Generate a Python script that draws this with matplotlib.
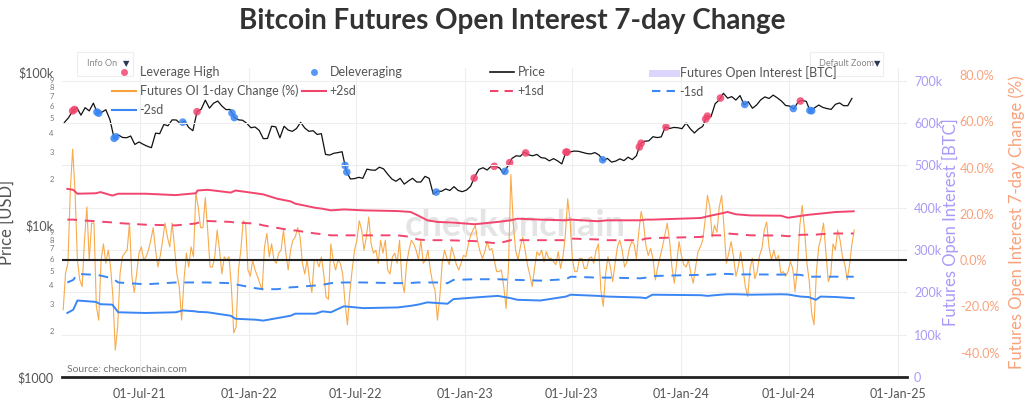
import numpy as np
import pandas as pd
import matplotlib
matplotlib.use("Agg")
import matplotlib.pyplot as plt
import matplotlib.dates as mdates
from matplotlib.lines import Line2D
from matplotlib.patches import Rectangle
from matplotlib.ticker import FixedLocator, FuncFormatter

plt.rcParams['font.family'] = ['Lato', 'DejaVu Sans']

# ---- data ----
# weekly BTC price, thousands of USD
price_start = '2021-02-24'
price_k = [
    47.0, 50.5, 56.0, 58.9, 52.5, 58.8, 56.0, 63.0, 53.8, 54.8, 57.0, 49.0, 37.0, 39.0, 37.5, 37.3,
    38.3, 33.7, 35.0, 33.8, 32.8, 32.1, 40.0, 39.7, 45.6, 44.7, 48.9, 48.8, 46.1, 48.1, 43.6, 41.5,
    55.3, 57.4, 65.9, 58.4, 62.9, 65.0, 60.3, 57.1, 57.2, 50.6, 48.9, 48.6, 46.4,
    43.4, 43.9, 41.7, 36.8, 36.9, 44.4, 44.0, 37.3, 44.4, 41.9, 41.1, 42.9, 47.1, 43.2, 41.1, 41.5,
    39.2, 39.7, 29.0, 28.7, 29.5, 29.8, 30.2, 22.6, 20.0, 20.1, 20.5, 20.2, 23.2, 22.9, 22.8, 23.9,
    23.3, 21.5, 20.0, 19.3, 20.2, 18.5, 19.4, 20.2, 19.1, 19.1, 20.8, 20.2, 15.9, 16.6, 16.6, 17.2,
    16.8, 17.8, 16.8, 16.5,
    16.9, 17.9, 20.7, 23.1, 23.7, 22.9, 24.3, 24.2, 23.6, 21.7, 24.4, 27.3, 28.4, 28.2, 30.0, 28.8,
    28.4, 29.0, 27.6, 27.4, 26.3, 27.2, 26.3, 25.1, 30.0, 30.1, 30.5, 30.4, 29.9, 29.4, 29.2, 29.8,
    28.7, 26.4, 27.3, 25.8, 26.2, 27.1, 26.4, 27.8, 26.8, 28.4, 34.2, 35.4, 35.6, 37.9, 37.4, 37.8,
    44.0, 42.9, 43.6, 43.4,
    42.8, 46.6, 42.7, 40.1, 42.6, 44.3, 51.8, 51.3, 62.4, 66.1, 73.1, 67.9, 69.5, 66.0, 70.6, 61.3,
    64.3, 58.3, 61.2, 66.2, 69.2, 67.6, 71.1, 68.2, 65.0, 60.8, 60.2, 57.7, 64.1, 65.8, 64.6, 55.1,
    58.7, 61.2, 59.0, 58.0, 57.3, 61.8, 63.2, 60.6, 60.6, 67.6,
]

lev_high_dates = ['2021-03-10', '2021-03-13', '2021-10-06', '2023-01-17', '2023-02-20',
                  '2023-03-18', '2023-04-14', '2023-06-21', '2023-06-23', '2023-10-23',
                  '2023-10-26', '2023-12-07', '2024-02-12', '2024-02-15', '2024-03-08',
                  '2024-07-21']
delev_dates = ['2021-04-20', '2021-04-23', '2021-05-19', '2021-05-22', '2021-09-12',
               '2021-12-04', '2021-12-08', '2022-06-13', '2022-06-16', '2022-11-14',
               '2023-03-10', '2023-08-22', '2024-04-18', '2024-07-09', '2024-08-06',
               '2024-08-09']

# futures OI change (%), one value every 4 days
oi_change_start = '2021-02-22'
oi_change_pct = [
    -21.5, -5.7, -1.4, 30, 48, 30, 0, -8.6, -11.5, 8.6,
    23, 0, 16, 16, -20, -26, 0, 7, -1.4, 4.3,
    -3, -16, -39, -29, -6, 1.4, 3, 4.3, 16, -7,
    -14, -6, 3, 5.7, 0, 1.4, 4.3, 8.6, 14, 4.3,
    -3, 2, 8.6, 16, 10, 5.7, 16, 5.7, -6, -11.5,
    -26, -8.6, 3, -3, 5.7, 1.4, 29, 23, 14, 14,
    27, 13, -3, -3, 1.4, 13, 4.3, -6, 1.4, 0,
    1.4, -11.5, -31.5, -29, -4.3, 4.3, 17, 16, -4.3, -7,
    0, -4.3, -7, -10, -13, 5.7, 11.5, 1.4, 7, 0,
    -1.4, 3, 4.3, 13, 3, -4.3, 4.3, 8.6, 10, 14,
    10, -1.4, -6, 0, -8.6, -14, 0, 0, -3, 1.4,
    -6, -16, -17, 7,
    0, -4.3, 0, -1.4, -6, -18.6, -28, -14, -4.3, 4.3,
    8.6, 17, 13, 4.3, 10, 18.6, 7, 3, 4.3, -1.4,
    8.6, 3, 8.6, -4.3, -6, 1.4, 3, -1.4, 8.6, -8.6,
    -14, -1.4, 4.3, 8.6, 7, 4.3, 0, 8.6, -1.4, 0,
    4.3, -4.3, -10, -13, -26, -16, -1.4, 4.3, 0.7, -2,
    5.7, 2, -2, -4.3, -1.4, 2, 1.4, 6.4, 10.7, 13,
    15, 8, 3.6, 0.7, 3.6, 8, 4.3, 5, 0, -5,
    -5, -4.3, -11.5, -21, -3, 37, 16, 4.3, 0, 5.7,
    10, 4.3, -2, -6.4, -11.5, -3.6, 3.6, 2, 4.3, -0.7,
    3.6, 0.7, 0.7, -0.7, -2, 3.6, -3.6, 1.4, 10.7, 26.5,
    17, 0, -5, -5, 0.7, 0.7, -3.6, -3.6, 0.7, 1.4,
    -1.4, 4.3, 7,
    -13, -20, -6, 1.4, -3, -9.3, -1.4, 5.7, 8.6, 4.3,
    -3, -0.7, 5, 8, 7, 0.7, 12, 21, 16, 6.4,
    2, 5, 0.7, -8.6, -3, 1.4, 5.7, 10.7, 16, 8.6,
    -3, -10, -1.4, 8, 2, -2, -3, 0, -5.7, -10,
    -3, 3.6, 5.7, 8.6, 17, 28, 23, 10, 15, 12,
    23, 28, 14, -1.4, 3, 8, 1.4, -7, -3, 3.6,
    -3.6, -11.5, -15.8, -3.6, 0.7, -8, -5, 2, 5, 13,
    16.5, 5.7, 0, 4.3, 0, 2, -5.7, -5, -7, -5,
    -0.7, -3.6, -13.6, -3, 15, 23.6, 13, -1.4, -9.3, -23,
    -28, -5, 5.7, 10, 16, 3.6, -9.3, -7, 7, 4.3,
    13, 8.6, 1.4, -2, -8.6, -2, 7, 13,
]

band_dates = [
    '2021-03-01', '2021-03-11', '2021-03-18', '2021-04-18', '2021-04-26', '2021-05-16',
    '2021-05-26', '2021-07-11', '2021-08-31', '2021-09-12', '2021-10-04', '2021-10-07',
    '2021-10-24', '2021-12-02', '2021-12-10', '2022-01-13', '2022-01-26', '2022-02-19',
    '2022-03-13', '2022-03-21', '2022-04-24', '2022-05-06', '2022-05-20', '2022-06-11',
    '2022-07-14', '2022-09-10', '2022-10-02', '2022-10-14', '2022-10-30', '2022-11-16',
    '2022-12-03', '2022-12-13', '2023-01-18', '2023-02-26', '2023-03-20', '2023-03-31',
    '2023-05-09', '2023-06-21', '2023-06-29', '2023-08-14', '2023-08-30', '2023-10-25',
    '2023-11-03', '2023-11-14', '2024-02-04', '2024-02-15', '2024-03-08', '2024-03-20',
    '2024-04-03', '2024-04-28', '2024-06-18', '2024-06-30', '2024-07-21', '2024-08-04',
    '2024-08-16', '2024-08-24', '2024-09-19', '2024-10-19',
]
plus_2sd = [30.8, 30.4, 28.7, 28.9, 29.4, 27.9, 28.7, 28.7, 28.1, 28.4,
            28.9, 30.1, 30.4, 29.2, 30.1, 28.9, 28.4, 26.5, 25.4, 24.4,
            22.6, 22.2, 21.5, 21.9, 21.5, 21.2, 20.8, 19.3, 17.2, 16.5,
            16.3, 16.2, 15.5, 16.5, 17.2, 17.9, 17.5, 17.2, 17.5, 16.8,
            17.2, 17.2, 17.5, 17.5, 18.2, 18.9, 20.1, 20.8, 19.8, 19.3,
            19.2, 18.3, 19.1, 19.6, 19.9, 20.1, 20.8, 21.1]
plus_1sd = [17.5, 17.5, 17.3, 16.8, 16.6, 16.3, 16.0, 15.3, 15.0, 15.3,
            15.8, 16.1, 16.9, 16.5, 16.2, 15.8, 15.0, 13.9, 12.9, 12.8,
            11.5, 11.2, 10.7, 10.7, 10.7, 10.7, 10.0, 8.9, 8.6, 8.6,
            8.6, 8.5, 8.2, 7.2, 8.6, 8.6, 8.6, 8.6, 9.3, 8.9,
            8.6, 8.6, 9.3, 9.5, 10.0, 10.7, 10.7, 11.5, 11.2, 10.7,
            10.6, 10.3, 10.9, 11.0, 11.0, 11.2, 11.5, 11.5]
minus_1sd = [-9.7, -8.6, -6.0, -6.4, -6.7, -7.9, -9.7, -10.5, -9.7, -9.7,
             -9.7, -9.7, -9.7, -10.0, -10.5, -12.2, -12.6, -12.6, -11.8, -11.7,
             -11.0, -10.7, -10.0, -9.7, -9.7, -10.0, -9.9, -9.7, -9.7, -9.7,
             -10.0, -8.6, -8.3, -8.3, -8.5, -8.6, -8.9, -8.3, -7.2, -7.6,
             -7.6, -7.9, -7.6, -6.9, -6.4, -6.4, -6.0, -6.0, -6.2, -6.2,
             -6.3, -6.2, -6.4, -7.2, -7.2, -7.2, -7.2, -7.2]
minus_2sd = [-22.9, -21.5, -17.5, -18.1, -19.1, -19.3, -22.6, -22.9, -22.6, -21.8,
             -22.2, -22.4, -22.6, -24.1, -25.4, -25.8, -26.2, -25.1, -24.1, -23.2,
             -23.2, -22.2, -22.6, -20.0, -20.8, -20.5, -19.8, -19.3, -18.3, -18.6,
             -18.9, -16.9, -16.2, -15.5, -16.5, -17.2, -17.5, -15.8, -15.0, -15.5,
             -15.8, -16.2, -16.5, -15.0, -15.2, -15.5, -15.0, -14.8, -14.8, -15.0,
             -14.8, -14.9, -15.8, -16.0, -17.2, -15.8, -16.0, -16.5]

oi_ticks = [0, 100000, 200000, 300000, 400000, 500000, 600000, 700000]
pct_ticks = [-40, -20, 0, 20, 40, 60, 80]
date_ticks = ['2021-07-01', '2022-01-01', '2022-07-01', '2023-01-01', '2023-07-01',
              '2024-01-01', '2024-07-01', '2025-01-01']

# ---- colours ----
RED = '#f2456e'
BLUE = '#3a86f5'
ORANGE = '#f7a23a'
LAV = '#a99af6'
PCT_C = '#f8a27c'
GREY = '#555555'

price_dates = pd.date_range(price_start, periods=len(price_k), freq='7D')
price = np.array(price_k) * 1000
chg_dates = pd.date_range(oi_change_start, periods=len(oi_change_pct), freq='4D')
bdates = pd.to_datetime(band_dates)


def on_price(dates):
    d = mdates.date2num(pd.to_datetime(dates))
    return 10 ** np.interp(d, mdates.date2num(price_dates), np.log10(price))


fig = plt.figure(figsize=(10.24, 4.03), dpi=100)
ax = fig.add_axes([62 / 1024, 26 / 403, 845 / 1024, 309 / 403])
ax2 = ax.twinx()
ax3 = ax.twinx()

# price axis (log)
ax.set_yscale('log')
ax.set_ylim(1000, 10 ** 5.03)
ax.set_xlim(pd.Timestamp('2021-02-20'), pd.Timestamp('2025-01-17'))
ax.yaxis.set_major_locator(FixedLocator([1000, 10000, 100000]))
ax.yaxis.set_major_formatter(FuncFormatter(lambda v, p: {1000: '$1000', 10000: '$10k', 100000: '$100k'}.get(int(round(v)), '')))
minors = [m * 10 ** e for e in (3, 4) for m in range(2, 10)]
ax.yaxis.set_minor_locator(FixedLocator(minors))
ax.yaxis.set_minor_formatter(FuncFormatter(lambda v, p: str(int(round(v / 10 ** np.floor(np.log10(v)))))))
ax.tick_params(axis='y', which='major', length=0, labelsize=9, labelcolor=GREY, pad=6)
ax.tick_params(axis='y', which='minor', length=0, labelsize=5.5, labelcolor='#777777', pad=6)
ax.set_ylabel('Price [USD]', fontsize=12, color=GREY, labelpad=2)

ax.xaxis.set_major_locator(FixedLocator(mdates.date2num(pd.to_datetime(date_ticks))))
ax.xaxis.set_major_formatter(mdates.DateFormatter('%d-%b-%y'))
ax.tick_params(axis='x', length=0, labelsize=9, labelcolor=GREY, pad=8)
ax.grid(axis='x', color='#eeeeee', lw=0.8)
for a in (ax, ax2, ax3):
    for s in a.spines.values():
        s.set_visible(False)

ax.text(0.536, 0.49, 'checkonchain', transform=ax.transAxes, ha='center', va='center',
        fontsize=26, fontweight='bold', color='#e4e4e4', zorder=0)
ax.text(0.006, 0.023, 'Source: checkonchain.com', transform=ax.transAxes, ha='left',
        va='center', fontsize=7.5, color='#777777', zorder=1)

ax.plot(price_dates, price, color='#111111', lw=0.9, zorder=3)
ax.scatter(pd.to_datetime(lev_high_dates), on_price(lev_high_dates), s=30, color=RED,
           alpha=0.85, edgecolors='none', zorder=4)
ax.scatter(pd.to_datetime(delev_dates), on_price(delev_dates), s=30, color=BLUE,
           alpha=0.85, edgecolors='none', zorder=4)

# OI axis
ax2.set_ylim(0, 730000)
ax2.yaxis.set_major_locator(FixedLocator(oi_ticks))
ax2.yaxis.set_major_formatter(FuncFormatter(lambda v, p: '0' if v == 0 else f'{v / 1000:.0f}k'))
ax2.tick_params(axis='y', length=0, labelsize=9, labelcolor=LAV, pad=5)
ax2.grid(axis='y', color='#eeeeee', lw=0.8)
ax2.set_ylabel('Futures Open Interest [BTC]', fontsize=12, color=LAV, labelpad=0)
ax2.axhline(0, color='#222222', lw=2, clip_on=False, zorder=5)

# % axis
ax3.set_ylim(-50.6, 83.1)
ax3.yaxis.set_major_locator(FixedLocator(pct_ticks))
ax3.yaxis.set_major_formatter(FuncFormatter(lambda v, p: f'{v:.1f}%'))
ax3.tick_params(axis='y', length=0, labelsize=9, labelcolor=PCT_C, pad=38)
ax3.set_ylabel('Futures Open Interest 7-day Change (%)', fontsize=12, color=PCT_C, labelpad=7)
ax3.plot(chg_dates, oi_change_pct, color=ORANGE, lw=0.8, alpha=0.9, zorder=2)
ax3.plot(bdates, plus_2sd, color=RED, lw=1.4, zorder=3)
ax3.plot(bdates, plus_1sd, color=RED, lw=1.4, ls=(0, (5, 4)), zorder=3)
ax3.plot(bdates, minus_1sd, color=BLUE, lw=1.4, ls=(0, (5, 4)), zorder=3)
ax3.plot(bdates, minus_2sd, color=BLUE, lw=1.4, zorder=3)
ax3.axhline(0, color='#222222', lw=1.5, zorder=4)

# title
fig.text(0.5, 0.948, 'Bitcoin Futures Open Interest 7-day Change', ha='center', va='center',
         fontsize=20, fontweight='bold', color='#333333')

# dropdown boxes (drawn first so the legend sits over them)
for bx, bw, label, tx, ax_ in [(77, 56, 'Info On', 87, 126), (810, 73, 'Default Zoom', 819, 877)]:
    fig.add_artist(Rectangle((bx / 1024, 1 - 76 / 403), bw / 1024, 24 / 403,
                             transform=fig.transFigure, fc='white', ec='#eeeeee', lw=0.8))
    fig.text(tx / 1024, 1 - 64 / 403, label, fontsize=6.5, color='#888888', va='center')
    fig.text(ax_ / 1024, 1 - 64 / 403, '▼', fontsize=6, color='#2a3a55', va='center', ha='center')

# legend, one column at a time
h_lev = Line2D([], [], marker='o', ls='none', color=RED, ms=5, alpha=0.85, mec='none')
h_del = Line2D([], [], marker='o', ls='none', color=BLUE, ms=5, alpha=0.85, mec='none')
h_price = Line2D([], [], color='#111111', lw=1.2)
h_oi = Line2D([], [], color='#dcd5fb', lw=5)
h_chg = Line2D([], [], color=ORANGE, lw=1.5)
h_p2 = Line2D([], [], color=RED, lw=1.5)
h_p1 = Line2D([], [], color=RED, lw=1.5, ls=(0, (4, 3)))
h_m1 = Line2D([], [], color=BLUE, lw=1.5, ls=(0, (4, 3)))
h_m2 = Line2D([], [], color=BLUE, lw=1.5)
cols = [
    (112, [h_lev, h_chg, h_m2], ['Leverage High', 'Futures OI 1-day Change (%)', '-2sd']),
    (302, [h_del, h_p2], ['Deleveraging', '+2sd']),
    (490, [h_price, h_p1], ['Price', '+1sd']),
    (652, [h_oi, h_m1], ['Futures Open Interest [BTC]', '-1sd']),
]
for x0, hs, ls in cols:
    fig.legend(hs, ls, loc='upper left', bbox_to_anchor=(x0 / 1024, (403 - 66) / 403),
               frameon=False, fontsize=9, handlelength=1.9, handletextpad=0.3,
               labelspacing=0.55, borderpad=0, borderaxespad=0, labelcolor=GREY)

fig.savefig('out.png', dpi=100)
